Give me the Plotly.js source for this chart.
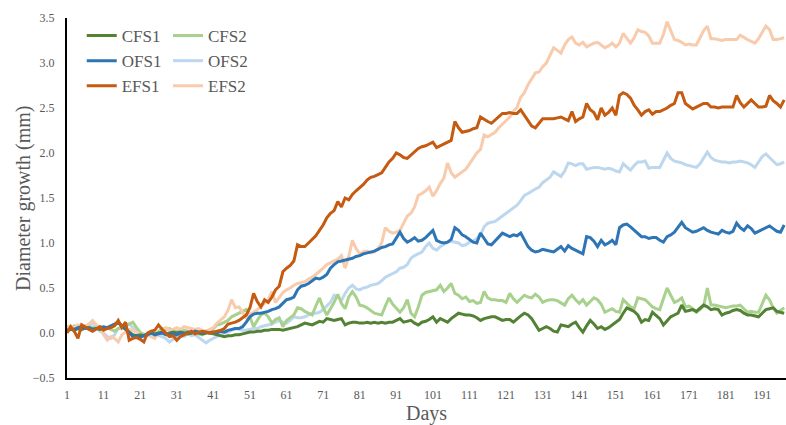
<!DOCTYPE html>
<html>
<head>
<meta charset="utf-8">
<script src="https://cdn.plot.ly/plotly-3.0.1.min.js"></script>
<style>html,body{margin:0;padding:0;background:#fff;}#chart{width:786px;height:425px;}</style>
</head>
<body>
<div id="chart"></div>
<script>
const days = Array.from({length: 197}, (_, i) => i + 1);
const xTickVals = [1, 11, 21, 31, 41, 51, 61, 71, 81, 91, 101, 111, 121, 131, 141, 151, 161, 171, 181, 191];
const seriesNames = ["CFS1", "CFS2", "OFS1", "OFS2", "EFS1", "EFS2"];

const CFS1 = [
0.02,0.04,0.03,0.05,0.04,0.06,0.05,0.04,0.05,0.04,
0.05,0.06,0.07,0.09,0.12,0.07,0.04,0.00,-0.02,-0.03,
-0.02,-0.03,-0.01,0.00,-0.01,0.00,0.01,-0.01,0.00,0.01,
0.00,0.01,0.00,-0.01,0.00,0.01,0.00,-0.01,0.00,0.00,
-0.01,-0.02,-0.03,-0.04,-0.03,-0.03,-0.02,-0.02,-0.01,0.00,
0.01,0.01,0.02,0.02,0.03,0.03,0.04,0.04,0.04,0.03,
0.04,0.05,0.06,0.07,0.09,0.11,0.10,0.09,0.11,0.13,
0.12,0.16,0.15,0.14,0.15,0.16,0.09,0.11,0.12,0.12,
0.11,0.11,0.12,0.11,0.12,0.11,0.12,0.11,0.12,0.12,
0.14,0.16,0.12,0.13,0.14,0.11,0.09,0.12,0.13,0.15,
0.18,0.12,0.16,0.14,0.12,0.16,0.19,0.22,0.21,0.20,
0.20,0.19,0.17,0.14,0.16,0.17,0.18,0.18,0.16,0.14,
0.15,0.15,0.12,0.16,0.19,0.22,0.20,0.16,0.10,0.03,
0.05,0.07,0.05,0.02,0.01,0.09,0.08,0.07,0.10,0.12,
0.06,0.01,0.08,0.14,0.10,0.05,0.07,0.04,0.06,0.09,
0.12,0.15,0.22,0.28,0.26,0.24,0.20,0.12,0.15,0.14,
0.23,0.20,0.16,0.09,0.13,0.18,0.20,0.22,0.31,0.24,
0.25,0.26,0.24,0.27,0.31,0.29,0.26,0.27,0.26,0.20,
0.22,0.23,0.25,0.26,0.25,0.22,0.20,0.20,0.19,0.18,
0.22,0.26,0.27,0.28,0.24,0.23,0.22];

const CFS2 = [
0.07,0.06,0.08,0.07,0.06,0.05,0.07,0.06,0.05,0.06,
0.05,0.06,0.04,0.02,0.05,0.06,0.08,0.10,0.12,0.06,
0.01,-0.02,-0.01,0.00,-0.02,0.02,0.05,0.04,0.05,0.03,
0.02,0.01,0.03,0.02,0.01,0.00,-0.01,-0.02,0.00,0.02,
0.05,0.09,0.10,0.12,0.14,0.18,0.20,0.22,0.24,0.26,
0.18,0.07,0.14,0.20,0.22,0.18,0.11,0.15,0.17,0.07,
0.14,0.17,0.20,0.28,0.27,0.24,0.22,0.20,0.30,0.39,
0.28,0.20,0.27,0.34,0.43,0.33,0.27,0.40,0.46,0.40,
0.31,0.30,0.28,0.25,0.22,0.21,0.20,0.30,0.39,0.32,
0.27,0.23,0.28,0.37,0.22,0.18,0.29,0.42,0.45,0.46,
0.47,0.48,0.53,0.46,0.50,0.55,0.44,0.42,0.38,0.40,
0.35,0.36,0.33,0.34,0.46,0.39,0.37,0.37,0.36,0.36,
0.34,0.44,0.38,0.34,0.38,0.42,0.40,0.39,0.43,0.40,
0.34,0.36,0.37,0.37,0.36,0.33,0.31,0.38,0.42,0.37,
0.33,0.37,0.31,0.35,0.39,0.37,0.32,0.23,0.25,0.27,
0.24,0.23,0.37,0.33,0.29,0.27,0.39,0.38,0.37,0.33,
0.29,0.27,0.26,0.38,0.50,0.42,0.34,0.36,0.39,0.29,
0.30,0.27,0.23,0.26,0.30,0.50,0.31,0.31,0.30,0.29,
0.28,0.29,0.30,0.30,0.31,0.27,0.23,0.24,0.23,0.23,
0.33,0.42,0.37,0.28,0.22,0.25,0.28];

const OFS1 = [
0.03,0.05,0.04,0.06,0.07,0.05,0.06,0.04,0.05,0.06,
0.07,0.06,0.08,0.10,0.12,0.08,0.05,0.00,-0.04,-0.03,
-0.05,-0.03,-0.02,0.00,-0.02,-0.01,0.00,-0.02,-0.02,-0.01,
-0.02,0.00,-0.01,0.01,0.00,0.02,0.01,0.00,0.01,0.00,
0.01,0.00,0.02,0.01,0.03,0.04,0.05,0.05,0.07,0.12,
0.18,0.21,0.22,0.22,0.23,0.24,0.26,0.27,0.29,0.33,
0.37,0.38,0.40,0.48,0.52,0.53,0.55,0.58,0.61,0.60,
0.62,0.65,0.72,0.76,0.79,0.80,0.81,0.82,0.83,0.85,
0.86,0.88,0.89,0.90,0.91,0.93,0.95,0.96,0.98,0.99,
1.05,1.12,1.05,1.01,1.03,1.06,1.02,1.03,1.06,1.10,
1.14,1.03,1.01,1.00,1.01,1.04,1.17,1.14,1.09,1.07,
1.04,1.01,1.00,1.11,1.05,0.99,0.98,1.02,1.06,1.11,
1.09,1.07,1.09,1.08,1.11,1.03,0.96,0.92,0.90,0.91,
0.93,0.92,0.91,0.90,0.93,0.96,0.91,0.97,0.94,0.92,
0.90,0.88,1.07,1.06,1.02,0.96,1.03,0.98,1.00,1.03,
0.98,1.17,1.20,1.21,1.18,1.14,1.10,1.07,1.07,1.05,
1.06,1.06,1.03,1.01,1.07,1.09,1.12,1.18,1.23,1.17,
1.14,1.12,1.13,1.15,1.17,1.14,1.12,1.11,1.10,1.14,
1.12,1.11,1.13,1.22,1.17,1.14,1.19,1.16,1.11,1.13,
1.15,1.17,1.19,1.16,1.13,1.12,1.20];

const OFS2 = [
0.05,0.04,0.06,0.05,0.03,0.06,0.08,0.11,0.07,0.02,
0.00,-0.04,-0.06,-0.02,0.05,0.06,0.09,0.10,0.06,0.02,
-0.02,-0.01,-0.03,0.00,-0.02,-0.03,-0.04,-0.06,-0.10,-0.07,
-0.03,-0.02,-0.04,-0.01,-0.03,-0.02,-0.05,-0.07,-0.11,-0.08,
-0.06,-0.04,-0.02,0.00,0.01,0.03,0.05,0.04,0.03,0.03,
0.04,0.05,0.05,0.07,0.08,0.09,0.10,0.12,0.14,0.12,
0.11,0.14,0.18,0.17,0.17,0.18,0.20,0.22,0.22,0.23,
0.26,0.30,0.34,0.42,0.40,0.36,0.44,0.50,0.53,0.49,
0.48,0.50,0.51,0.53,0.54,0.55,0.58,0.62,0.64,0.66,
0.68,0.72,0.73,0.76,0.83,0.86,0.88,0.90,0.96,1.00,
0.94,0.92,0.96,0.99,1.01,1.02,1.01,1.00,0.97,0.98,
1.01,1.02,1.05,1.09,1.18,1.22,1.23,1.24,1.27,1.30,
1.34,1.37,1.40,1.42,1.47,1.53,1.55,1.58,1.60,1.62,
1.67,1.70,1.73,1.79,1.76,1.74,1.80,1.89,1.88,1.86,
1.88,1.88,1.82,1.83,1.84,1.84,1.83,1.82,1.83,1.82,
1.80,1.79,1.88,1.85,1.81,1.86,1.90,1.90,1.91,1.83,
1.84,1.84,1.84,1.92,2.00,1.94,1.91,1.90,1.89,1.87,
1.86,1.85,1.84,1.88,1.94,2.01,1.95,1.92,1.91,1.90,
1.90,1.89,1.90,1.90,1.91,1.90,1.89,1.87,1.84,1.90,
1.96,1.99,1.95,1.90,1.87,1.88,1.90];

const EFS1 = [
0.00,0.07,0.02,-0.06,0.09,0.06,0.04,0.02,0.05,0.07,
0.03,0.05,0.06,0.08,0.14,0.06,0.12,-0.08,-0.06,-0.05,
-0.07,-0.10,0.00,0.02,0.03,0.09,0.04,0.00,-0.04,-0.03,
-0.08,-0.04,-0.02,0.00,0.02,-0.01,0.01,0.02,0.01,0.00,
0.01,0.02,0.03,0.05,0.10,0.11,0.12,0.14,0.17,0.20,
0.28,0.44,0.35,0.29,0.37,0.34,0.40,0.48,0.52,0.68,
0.72,0.75,0.80,0.98,0.96,0.96,1.00,1.04,1.08,1.14,
1.20,1.28,1.33,1.36,1.46,1.40,1.50,1.48,1.54,1.58,
1.61,1.65,1.70,1.73,1.74,1.76,1.78,1.84,1.90,1.94,
2.00,1.98,1.95,1.94,1.98,2.02,2.05,2.07,2.08,2.10,
2.12,2.06,2.08,2.10,2.12,2.14,2.35,2.28,2.23,2.24,
2.25,2.27,2.28,2.40,2.37,2.35,2.33,2.37,2.40,2.44,
2.44,2.45,2.44,2.44,2.48,2.42,2.35,2.30,2.28,2.33,
2.38,2.38,2.38,2.38,2.39,2.40,2.38,2.36,2.46,2.35,
2.38,2.40,2.55,2.48,2.45,2.37,2.50,2.42,2.45,2.50,
2.42,2.64,2.67,2.65,2.61,2.53,2.48,2.42,2.46,2.48,
2.43,2.46,2.46,2.48,2.50,2.53,2.55,2.67,2.67,2.55,
2.52,2.49,2.51,2.53,2.55,2.55,2.51,2.51,2.50,2.51,
2.51,2.51,2.51,2.64,2.56,2.51,2.55,2.59,2.55,2.51,
2.51,2.52,2.64,2.58,2.55,2.51,2.59];

const EFS2 = [
0.07,0.08,0.06,0.09,0.07,0.08,0.10,0.14,0.09,0.06,
-0.02,-0.08,-0.04,-0.06,-0.10,-0.02,0.01,0.04,0.03,0.01,
-0.02,-0.03,-0.02,-0.04,-0.06,0.00,0.03,0.06,0.03,0.04,
0.06,0.04,0.07,0.06,0.05,0.04,0.05,0.03,0.02,0.04,
0.06,0.11,0.14,0.18,0.25,0.37,0.28,0.29,0.23,0.17,
0.21,0.23,0.26,0.29,0.33,0.37,0.46,0.34,0.40,0.45,
0.48,0.50,0.53,0.55,0.56,0.57,0.60,0.62,0.65,0.68,
0.72,0.76,0.78,0.80,0.82,0.86,0.72,0.85,1.03,0.94,
0.88,0.90,0.91,0.89,0.90,0.94,1.00,1.17,1.13,1.11,
1.12,1.14,1.22,1.30,1.33,1.40,1.53,1.55,1.58,1.62,
1.52,1.58,1.66,1.72,1.89,1.78,1.73,1.76,1.79,1.82,
1.88,1.94,2.00,2.04,2.20,2.18,2.21,2.23,2.28,2.32,
2.37,2.40,2.46,2.51,2.62,2.67,2.76,2.82,2.89,2.90,
2.96,3.00,3.08,3.17,3.14,3.11,3.20,3.26,3.29,3.22,
3.20,3.23,3.18,3.20,3.22,3.23,3.20,3.17,3.19,3.22,
3.18,3.22,3.33,3.27,3.22,3.28,3.37,3.35,3.34,3.30,
3.22,3.22,3.22,3.32,3.46,3.36,3.26,3.25,3.23,3.20,
3.21,3.20,3.20,3.28,3.36,3.41,3.27,3.27,3.26,3.25,
3.26,3.26,3.26,3.26,3.31,3.28,3.26,3.24,3.22,3.27,
3.34,3.41,3.37,3.26,3.26,3.27,3.28];

const seriesValues = [CFS1, CFS2, OFS1, OFS2, EFS1, EFS2];
const colors = ["#548235", "#A9D18E", "#2E75B6", "#BDD7EE", "#C55A11", "#F8CBAD"];
const legendIds = ["legend", "legend2", "legend", "legend2", "legend", "legend2"];
const drawOrder = [3, 1, 5, 0, 2, 4];

const traces = drawOrder.map(i => ({
  type: "scatter",
  mode: "lines",
  x: days,
  y: seriesValues[i],
  name: seriesNames[i],
  legend: legendIds[i],
  legendrank: i,
  line: {color: colors[i], width: 3}
}));

const serif = "'Liberation Serif', 'Times New Roman', serif";
const legendStyle = {
  font: {family: serif, size: 17, color: "#595959"},
  bgcolor: "rgba(0,0,0,0)",
  borderwidth: 0,
  tracegroupgap: 0,
  itemwidth: 30,
  xanchor: "left",
  yanchor: "top",
  traceorder: "normal"
};

const layout = {
  width: 786,
  height: 425,
  margin: {l: 67, r: 0, t: 18, b: 47},
  paper_bgcolor: "#ffffff",
  plot_bgcolor: "#ffffff",
  showlegend: true,
  legend: Object.assign({}, legendStyle, {x: 0.0205, y: 1.0}),
  legend2: Object.assign({}, legendStyle, {x: 0.1405, y: 1.0}),
  xaxis: {
    range: [1, 197.5],
    tickvals: xTickVals,
    ticktext: xTickVals.map(String),
    showgrid: false,
    zeroline: false,
    showline: true,
    linecolor: "#000000",
    linewidth: 2,
    ticks: "outside",
    ticklen: 5,
    tickcolor: "rgba(0,0,0,0)",
    tickfont: {family: serif, size: 12, color: "#595959"},
    title: {text: "Days", font: {family: serif, size: 20, color: "#595959"}, standoff: 6}
  },
  yaxis: {
    range: [-0.5, 3.5],
    dtick: 0.5,
    tick0: -0.5,
    tickformat: ".1f",
    showgrid: false,
    zeroline: false,
    showline: true,
    linecolor: "#000000",
    linewidth: 2,
    ticks: "outside",
    ticklen: 8,
    tickcolor: "rgba(0,0,0,0)",
    tickfont: {family: serif, size: 12, color: "#595959"},
    title: {text: ""}
  },
  annotations: [{
    text: "Diameter growth (mm)",
    xref: "paper", yref: "paper",
    x: -0.0612, y: 0.5,
    xanchor: "center", yanchor: "middle",
    textangle: -90,
    showarrow: false,
    font: {family: serif, size: 20, color: "#595959"}
  }]
};

Plotly.newPlot("chart", traces, layout, {displayModeBar: false, staticPlot: true});
</script>
</body>
</html>
